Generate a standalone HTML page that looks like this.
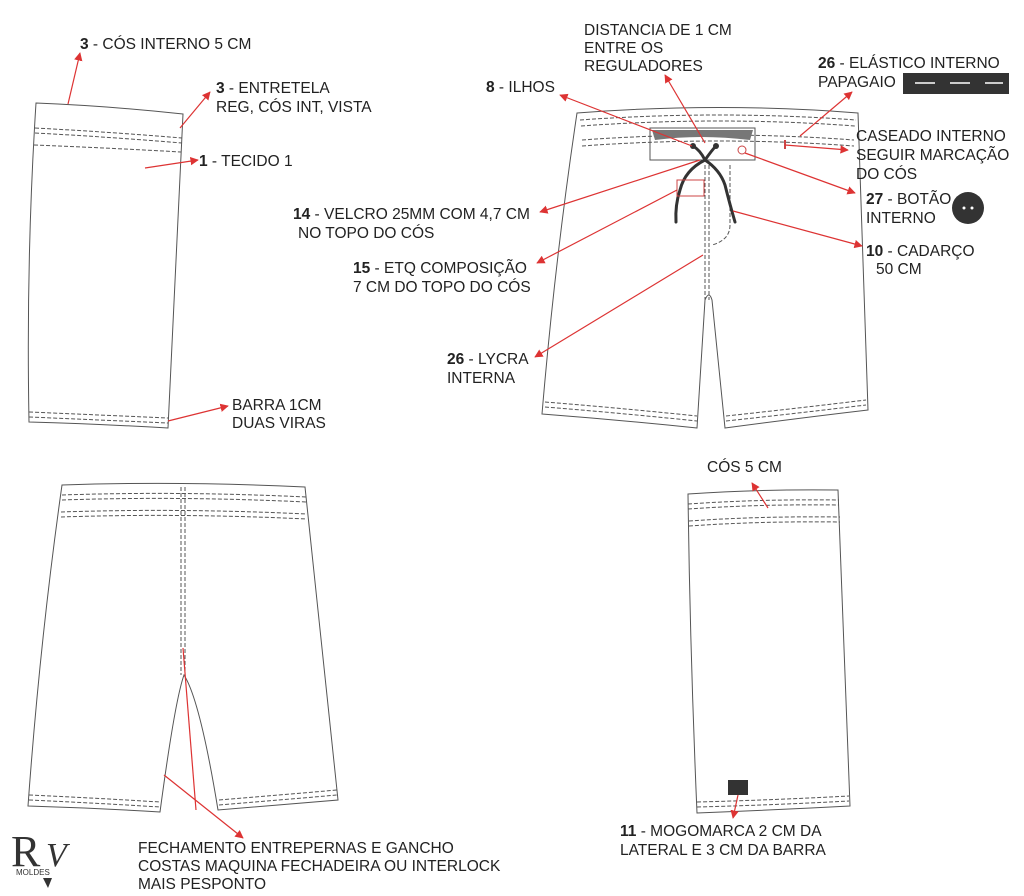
<!DOCTYPE html>
<html><head><meta charset="utf-8"><style>
body{margin:0;background:#fff}
svg{display:block}
text{font-family:"Liberation Sans",sans-serif;font-size:15.5px;fill:#222}
</style></head><body>
<svg width="1024" height="896" viewBox="0 0 1024 896" xmlns="http://www.w3.org/2000/svg">
<defs><marker id="a" viewBox="0 0 10 10" refX="9" refY="5" markerWidth="7" markerHeight="7" orient="auto"><path d="M0,0L10,5L0,10z" fill="#d33"/></marker></defs>
<g fill="none" stroke="#555" stroke-width="1">
<path d="M36,103 Q110,106 183,114 L168,428 Q100,424 29,422 Q26,260 36,103Z"/>
<path d="M35,128 Q110,132 182,138 M35,133 Q110,137 182,143 M34,145 Q110,148 181,152" stroke-dasharray="4,2"/>
<path d="M29,412 Q100,415 168,418 M29,417 Q100,420 168,423" stroke-dasharray="4,2"/>
<path d="M577,113 Q720,102 858,113 L868,410 Q800,418 725,428 L712,300 Q709,290 705,300 L697,428 Q620,420 542,414 Q555,260 577,113Z"/>
<path d="M580,120 Q720,110 856,120 M581,126 Q720,116 855,126 M582,140 Q720,130 854,140 M582,146 Q720,136 854,146" stroke-dasharray="4,2"/>
<path d="M650,128 L755,128 L755,160 L650,160Z"/>
<path d="M545,402 Q620,408 697,416 M545,407 Q620,413 697,421 M726,416 Q800,408 866,400 M726,421 Q800,413 866,405" stroke-dasharray="4,2"/>
<path d="M705,165 L705,300 M709,165 L709,300 M730,165 L730,225 Q730,240 712,245" stroke-dasharray="4,2"/>
<path d="M62,485 Q180,481 305,487 L338,800 Q280,805 218,810 Q200,700 184,675 Q175,700 160,812 Q95,808 28,806 Q40,640 62,485Z"/>
<path d="M62,495 Q180,491 306,497 M62,500 Q180,496 306,502 M61,512 Q180,508 307,514 M61,517 Q180,513 307,519" stroke-dasharray="4,2"/>
<path d="M181,487 L181,675 M185,487 L185,675" stroke-dasharray="4,2"/>
<path d="M29,795 Q95,798 160,802 M29,800 Q95,803 160,807 M219,800 Q280,795 337,790 M219,805 Q280,800 337,795" stroke-dasharray="4,2"/>
<path d="M688,494 Q760,489 838,490 L850,806 Q775,810 697,813 Q690,650 688,494Z"/>
<path d="M688,504 Q760,499 839,500 M688,509 Q760,504 839,505 M689,521 Q760,516 840,517 M689,526 Q760,521 840,522" stroke-dasharray="4,2"/>
<path d="M697,802 Q775,800 849,796 M697,807 Q775,805 849,801" stroke-dasharray="4,2"/>
</g>
<path d="M652,130 L753,130 L750,140 Q700,134 655,140Z" fill="#777"/>
<g fill="none" stroke="#333" stroke-width="3" stroke-linecap="round">
<path d="M693,146 Q700,150 705,160 Q685,170 680,190 Q675,205 676,222"/>
<path d="M716,146 Q712,150 705,160 Q720,170 725,185 Q730,205 735,222"/>
</g>
<circle cx="693" cy="146" r="3" fill="#333"/><circle cx="716" cy="146" r="3" fill="#333"/>
<rect x="677" y="180" width="27" height="16" fill="none" stroke="#c44"/>
<circle cx="742" cy="150" r="4" fill="none" stroke="#c44"/>
<line x1="785" y1="140" x2="785" y2="149" stroke="#c44" stroke-width="2"/>
<rect x="903" y="73" width="106" height="21" fill="#333"/>
<path d="M915,83h20M950,83h20M985,83h18" stroke="#fff" stroke-width="1.5"/>
<circle cx="968" cy="208" r="16" fill="#333"/><circle cx="964" cy="208" r="1.5" fill="#fff"/><circle cx="972" cy="208" r="1.5" fill="#fff"/>
<rect x="728" y="780" width="20" height="15" fill="#333"/>
<g stroke="#d33" stroke-width="1.2" marker-end="url(#a)">
<line x1="68" y1="104" x2="80" y2="53"/>
<line x1="180" y1="128" x2="210" y2="92"/>
<line x1="145" y1="168" x2="198" y2="160"/>
<line x1="168" y1="421" x2="228" y2="406"/>
<line x1="692" y1="146" x2="560" y2="95"/>
<line x1="705" y1="143" x2="665" y2="75"/>
<line x1="800" y1="136" x2="852" y2="92"/>
<line x1="785" y1="145" x2="848" y2="150"/>
<line x1="745" y1="153" x2="855" y2="193"/>
<line x1="733" y1="211" x2="862" y2="246"/>
<line x1="700" y1="160" x2="540" y2="212"/>
<line x1="677" y1="190" x2="537" y2="263"/>
<line x1="703" y1="255" x2="535" y2="357"/>
<line x1="768" y1="508" x2="752" y2="483"/>
<line x1="738" y1="795" x2="733" y2="818"/>
<line x1="164" y1="775" x2="243" y2="838"/>
</g>
<line x1="183" y1="648" x2="196" y2="810" stroke="#d33" stroke-width="1.2"/>
<g>
<text x="80" y="49"><tspan font-weight="bold">3</tspan> - CÓS INTERNO 5 CM</text>
<text x="216" y="93"><tspan font-weight="bold">3</tspan> - ENTRETELA</text>
<text x="216" y="112">REG, CÓS INT, VISTA</text>
<text x="199" y="166"><tspan font-weight="bold">1</tspan> - TECIDO 1</text>
<text x="232" y="410">BARRA 1CM</text>
<text x="232" y="428">DUAS VIRAS</text>
<text x="584" y="35">DISTANCIA DE 1 CM</text>
<text x="584" y="53">ENTRE OS</text>
<text x="584" y="71">REGULADORES</text>
<text x="486" y="92"><tspan font-weight="bold">8</tspan> - ILHOS</text>
<text x="818" y="68"><tspan font-weight="bold">26</tspan> - ELÁSTICO INTERNO</text>
<text x="818" y="87">PAPAGAIO</text>
<text x="856" y="141">CASEADO INTERNO</text>
<text x="856" y="160">SEGUIR MARCAÇÃO</text>
<text x="856" y="179">DO CÓS</text>
<text x="866" y="204"><tspan font-weight="bold">27</tspan> - BOTÃO</text>
<text x="866" y="223">INTERNO</text>
<text x="866" y="256"><tspan font-weight="bold">10</tspan> - CADARÇO</text>
<text x="876" y="274">50 CM</text>
<text x="293" y="219"><tspan font-weight="bold">14</tspan> - VELCRO 25MM COM 4,7 CM</text>
<text x="298" y="238">NO TOPO DO CÓS</text>
<text x="353" y="273"><tspan font-weight="bold">15</tspan> - ETQ COMPOSIÇÃO</text>
<text x="353" y="292">7 CM DO TOPO DO CÓS</text>
<text x="447" y="364"><tspan font-weight="bold">26</tspan> - LYCRA</text>
<text x="447" y="383">INTERNA</text>
<text x="707" y="472">CÓS 5 CM</text>
<text x="620" y="836"><tspan font-weight="bold">11</tspan> - MOGOMARCA 2 CM DA</text>
<text x="620" y="855">LATERAL E 3 CM DA BARRA</text>
<text x="138" y="853">FECHAMENTO ENTREPERNAS E GANCHO</text>
<text x="138" y="871">COSTAS MAQUINA FECHADEIRA OU INTERLOCK</text>
<text x="138" y="889">MAIS PESPONTO</text>
</g>
<text x="11" y="866" style="font-family:'Liberation Serif',serif;font-size:44px;fill:#333">R</text>
<text x="46" y="866" style="font-family:'Liberation Serif',serif;font-size:34px;fill:#333;font-style:italic">V</text>
<text x="16" y="875" style="font-size:8px;fill:#333">MOLDES</text>
<path d="M43,878L52,878L48,888Z" fill="#333"/>
</svg>
</body></html>
